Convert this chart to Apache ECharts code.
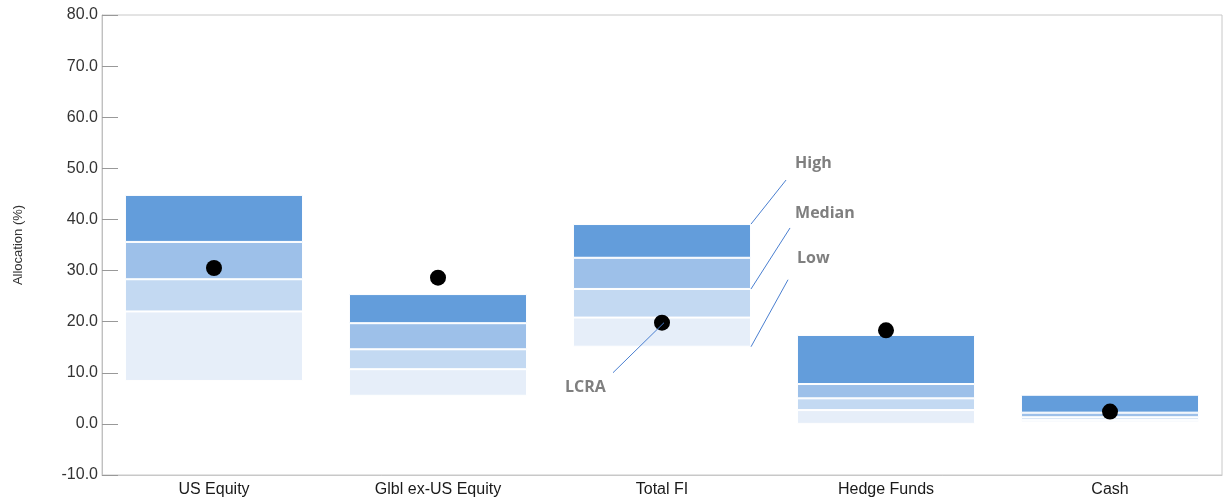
<!DOCTYPE html>
<html>
<head>
<meta charset="utf-8">
<script src="https://cdn.jsdelivr.net/npm/echarts@6/dist/echarts.min.js"></script>
<style>
html,body{margin:0;padding:0;background:#fff;}
#chart{width:1225px;height:503px;}
</style>
</head>
<body>
<div id="chart"></div>
<script>
// ---- data ----
const categories = ['US Equity', 'Glbl ex-US Equity', 'Total FI', 'Hedge Funds', 'Cash'];
const low    = [8.4, 5.5, 15.1, 0.0, 0.3];
const p25    = [22.0, 10.7, 20.8, 2.7, 0.8];
const median = [28.3, 14.6, 26.4, 5.0, 1.3];
const p75    = [35.6, 19.7, 32.5, 7.8, 2.2];
const high   = [44.8, 25.4, 39.1, 17.4, 5.7];
const lcra   = [30.5, 28.6, 19.8, 18.3, 2.4];
const yTicks = [-10, 0, 10, 20, 30, 40, 50, 60, 70, 80];

const diff = (a, b) => a.map((v, i) => +(v - b[i]).toFixed(2));
const colors = ['#e6eef9', '#c3d9f2', '#9dc0e9', '#639ddb'];
const segs = [diff(p25, low), diff(median, p25), diff(p75, median), diff(high, p75)];

const chart = echarts.init(document.getElementById('chart'));
const barW = '79.5%';
const series = [{
  type: 'bar', stack: 'r', data: low, barWidth: barW,
  itemStyle: { color: 'transparent' }, silent: true
}];
segs.forEach((d, i) => series.push({
  type: 'bar', stack: 'r', data: d, barWidth: barW,
  itemStyle: { color: colors[i], borderColor: '#ffffff', borderWidth: 1 }
}));
series.push({
  type: 'scatter', data: lcra, symbol: 'circle', symbolSize: 16,
  itemStyle: { color: '#000000', opacity: 1 }, z: 5
});

chart.setOption({
  animation: false,
  grid: { left: 102, right: 3, top: 15, bottom: 28, show: true, borderColor: '#c8c8c8', borderWidth: 1 },
  xAxis: {
    type: 'category', data: categories,
    axisLine: { onZero: false, lineStyle: { color: '#c8c8c8' } },
    axisTick: { show: false },
    axisLabel: { color: '#1a1a1a', fontFamily: 'Liberation Sans, Arial, sans-serif', fontSize: 16, margin: 7 }
  },
  yAxis: {
    type: 'value', min: -10, max: 80, interval: 10,
    name: 'Allocation (%)', nameLocation: 'middle', nameGap: 77,
    nameTextStyle: { color: '#333', fontFamily: 'Liberation Sans, Arial, sans-serif', fontSize: 13 },
    axisLine: { show: true, lineStyle: { color: '#c0c0c0' } },
    axisTick: { show: true, inside: true, length: 16, lineStyle: { color: '#999' } },
    splitLine: { show: false },
    axisLabel: {
      color: '#333', fontFamily: 'Liberation Sans, Arial, sans-serif', fontSize: 16, margin: 4,
      formatter: v => yTicks.includes(v) ? v.toFixed(1) : ''
    }
  },
  series: series
});

// annotations anchored to data positions of "Total FI"
const fi = 2;
const cx = chart.convertToPixel({ xAxisIndex: 0 }, categories[fi]);
const step = chart.convertToPixel({ xAxisIndex: 0 }, categories[1]) - chart.convertToPixel({ xAxisIndex: 0 }, categories[0]);
const rx = cx + step * 0.795 / 2;
const py = v => chart.convertToPixel({ yAxisIndex: 0 }, v);
const lineStyle = { stroke: '#4a7fd0', lineWidth: 1 };
const txt = { fill: '#7f7f7f', font: 'bold 16px "Open Sans", "Liberation Sans", sans-serif', textVerticalAlign: 'middle' };
const yH = py(high[fi]), yM = py(median[fi]), yL = py(low[fi]), yD = py(lcra[fi]);
chart.setOption({
  graphic: [
    { type: 'line', z: 100, shape: { x1: rx, y1: yH, x2: rx + 35, y2: yH - 44 }, style: lineStyle },
    { type: 'line', z: 100, shape: { x1: rx, y1: yM, x2: rx + 39, y2: yM - 61 }, style: lineStyle },
    { type: 'line', z: 100, shape: { x1: rx, y1: yL, x2: rx + 37, y2: yL - 67 }, style: lineStyle },
    { type: 'line', z: 100, shape: { x1: cx + 2, y1: yD, x2: cx - 49, y2: yD + 50 }, style: lineStyle },
    { type: 'text', z: 100, left: rx + 44, top: yH - 69, style: Object.assign({ text: 'High' }, txt) },
    { type: 'text', z: 100, left: rx + 44, top: yM - 84, style: Object.assign({ text: 'Median' }, txt) },
    { type: 'text', z: 100, left: rx + 46, top: yL - 96, style: Object.assign({ text: 'Low' }, txt) },
    { type: 'text', z: 100, left: cx - 97, top: yD + 57, style: Object.assign({ text: 'LCRA' }, txt) }
  ]
});
</script>
</body>
</html>
